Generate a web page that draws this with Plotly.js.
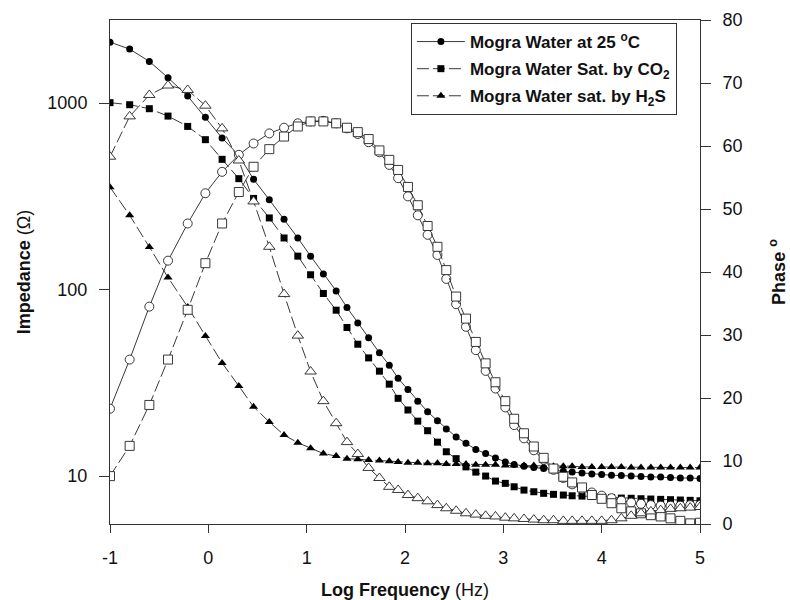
<!DOCTYPE html>
<html>
<head>
<meta charset="utf-8">
<script src="https://cdn.plot.ly/plotly-3.0.1.min.js"></script>
<style>html,body{margin:0;padding:0;background:#fff;}#chart{width:790px;height:600px;}</style>
</head>
<body>
<div id="chart"></div>
<script>
// Log frequency (Hz) grid
var logFreq = [-1, -0.8, -0.6, -0.41, -0.21, -0.03, 0.14, 0.31, 0.46, 0.62,
  0.77, 0.91, 1.04, 1.17, 1.3, 1.41, 1.52, 1.63, 1.74, 1.84,
  1.93, 2.03, 2.13, 2.23, 2.33, 2.42, 2.52, 2.62, 2.72, 2.82,
  2.92, 3.02, 3.11, 3.21, 3.31, 3.41, 3.51, 3.61, 3.70, 3.80,
  3.90, 4.0, 4.1, 4.2, 4.3, 4.4, 4.5, 4.6, 4.7, 4.8,
  4.9, 5.0];
var xTickVals = [-1, 0, 1, 2, 3, 4, 5];
var xTickText = ['-1', '0', '1', '2', '3', '4', '5'];

// Impedance (ohm), filled markers, left axis
var impWater25 = [2120, 1945, 1671, 1366, 1089, 840, 649, 524, 390, 303,
  238, 189, 151, 121, 98.3, 80.1, 66.2, 55.1, 45.8, 39.3,
  33.4, 29.1, 25.2, 22.1, 19.8, 17.9, 16.2, 15.0, 13.9, 13.2,
  12.5, 11.9, 11.55, 11.3, 11.1, 10.97, 10.77, 10.6, 10.5, 10.4,
  10.25, 10.2, 10.1, 10.06, 10.0, 9.94, 9.88, 9.88, 9.82, 9.76,
  9.76, 9.7];
var impCO2 = [1004, 979, 932, 851, 749, 636, 499, 393, 308, 242,
  189, 151, 120, 95.2, 77.5, 62.6, 50.9, 43.0, 36.5, 31.1,
  26.1, 22.6, 19.7, 17.5, 15.2, 13.5, 12.4, 11.2, 10.5, 10.0,
  9.4, 9.14, 8.76, 8.41, 8.24, 8.08, 7.98, 7.91, 7.84, 7.81,
  7.77, 7.72, 7.67, 7.62, 7.60, 7.56, 7.53, 7.50, 7.47, 7.44,
  7.41, 7.37];
var impH2S = [354, 250, 169, 116, 80.7, 56.4, 40.4, 30.4, 23.5, 19.5,
  16.6, 15.1, 14.1, 13.2, 12.8, 12.4, 12.3, 12.2, 12.1, 12.0,
  11.9, 11.8, 11.8, 11.7, 11.7, 11.6, 11.6, 11.6, 11.5, 11.5,
  11.5, 11.4, 11.4, 11.4, 11.4, 11.3, 11.3, 11.3, 11.3, 11.2,
  11.2, 11.2, 11.2, 11.2, 11.1, 11.1, 11.1, 11.1, 11.1, 11.1,
  11.1, 11.1];

// Phase (degrees), open markers, right axis
var phaseWater25 = [18.3, 26.1, 34.5, 41.8, 47.7, 52.5, 55.9, 58.6, 60.4, 62.0,
  62.9, 63.6, 63.9, 64.0, 63.6, 62.8, 61.9, 60.6, 59.0, 57.0,
  54.9, 52.0, 49.0, 45.9, 42.7, 38.9, 34.9, 31.3, 27.6, 24.3,
  21.5, 18.5, 15.7, 13.6, 11.7, 10.2, 8.6, 7.3, 6.3, 5.6,
  5.0, 4.5, 4.1, 3.7, 3.4, 3.2, 3.0, 2.9, 2.9, 2.9,
  3.0, 3.0];
var phaseCO2 = [7.6, 12.4, 18.9, 26.1, 34.0, 41.4, 47.7, 52.7, 56.7, 59.5,
  61.5, 63.1, 63.9, 63.9, 63.6, 62.9, 62.2, 61.1, 59.3, 57.8,
  56.2, 53.5, 50.6, 47.3, 44.0, 40.3, 36.1, 32.6, 28.9, 25.5,
  22.5, 19.5, 16.7, 14.4, 12.3, 10.5, 8.8, 7.5, 6.6, 5.8,
  4.6, 4.0, 3.3, 2.5, 2.0, 1.7, 1.4, 1.2, 0.9, 0.5,
  0.1, 0.2];
var phaseH2S = [58.3, 64.7, 68.1, 69.6, 68.9, 66.4, 62.8, 57.7, 51.2, 44.0,
  36.5, 29.9, 24.2, 19.5, 16.0, 13.0, 11.1, 8.9, 7.3, 5.9,
  5.4, 4.6, 4.1, 3.6, 3.0, 2.5, 2.1, 1.7, 1.5, 1.3,
  1.2, 1.0, 0.9, 0.8, 0.7, 0.6, 0.6, 0.5, 0.5, 0.5,
  0.5, 0.5, 0.6, 0.9, 1.3, 1.7, 2.0, 2.2, 2.4, 2.5,
  2.6, 2.7];

var seriesNames = ['Mogra Water at 25 <sup>o</sup>C', 'Mogra Water Sat. by CO<sub>2</sub>', 'Mogra Water sat. by H<sub>2</sub>S'];
var symbols = ['circle', 'square', 'triangle-up'];
var dashes = ['solid', '12px,4px', '12px,4px'];
var impSets = [impWater25, impCO2, impH2S];
var phaseSets = [phaseWater25, phaseCO2, phaseH2S];

var ink = '#222';
var traces = [];
for (var i = 0; i < 3; i++) {
  traces.push({
    x: logFreq, y: phaseSets[i], yaxis: 'y2', type: 'scatter', mode: 'lines+markers',
    showlegend: false, hoverinfo: 'skip', legendgroup: 'g' + i,
    line: {color: ink, width: 0.9, dash: dashes[i]},
    marker: {symbol: symbols[i], size: i === 2 ? 10 : 9, color: '#fff', line: {color: ink, width: 0.9}}
  });
}
for (var j = 0; j < 3; j++) {
  traces.push({
    x: logFreq, y: impSets[j], yaxis: 'y', type: 'scatter', mode: 'lines+markers',
    name: seriesNames[j], legendgroup: 'g' + j,
    line: {color: ink, width: 0.9, dash: dashes[j]},
    marker: {symbol: symbols[j], size: j === 2 ? 8 : 7, color: '#000', line: {width: 0}}
  });
}

var font = 'Liberation Sans, Arial, sans-serif';
var layout = {
  width: 790, height: 600,
  margin: {l: 110, r: 90, t: 20, b: 76},
  paper_bgcolor: '#fff', plot_bgcolor: '#fff',
  font: {family: font, size: 18, color: '#111'},
  showlegend: true,
  legend: {
    x: 0.51, y: 0.994, xanchor: 'left', yanchor: 'top',
    bordercolor: '#333', borderwidth: 1, bgcolor: '#fff',
    font: {family: font, size: 17, color: '#111', weight: 'bold'},
    tracegroupgap: 2, itemwidth: 48, traceorder: 'grouped'
  },
  xaxis: {
    range: [-1, 5], tickvals: xTickVals, ticktext: xTickText,
    ticks: 'outside', ticklen: 8, tickcolor: '#333', tickwidth: 1,
    showline: true, linecolor: '#333', linewidth: 1, mirror: true,
    showgrid: false, zeroline: false, ticklabelstandoff: 9,
    title: {text: '<b>Log Frequency</b> (Hz)', font: {size: 18}, standoff: 20}
  },
  yaxis: {
    type: 'log', range: [0.743, 3.445],
    tickvals: [10, 100, 1000], ticktext: ['10', '100', '1000'],
    ticks: 'outside', ticklen: 10, tickcolor: '#333', tickwidth: 1,
    showline: true, linecolor: '#333', linewidth: 1,
    showgrid: false, zeroline: false, ticklabelstandoff: 8,
    title: {text: '<b>Impedance</b> (Ω)', font: {size: 18}, standoff: 12}
  },
  yaxis2: {
    overlaying: 'y', side: 'right', range: [0, 80], dtick: 10,
    ticks: 'outside', ticklen: 10, tickcolor: '#333', tickwidth: 1,
    showline: true, linecolor: '#333', linewidth: 1,
    showgrid: false, zeroline: false, ticklabelstandoff: 8,
    title: {text: '<b>Phase <sup>o</sup></b>', font: {size: 18}, standoff: 30}
  }
};

Plotly.newPlot('chart', traces, layout, {displayModeBar: false, staticPlot: true});
</script>
</body>
</html>
